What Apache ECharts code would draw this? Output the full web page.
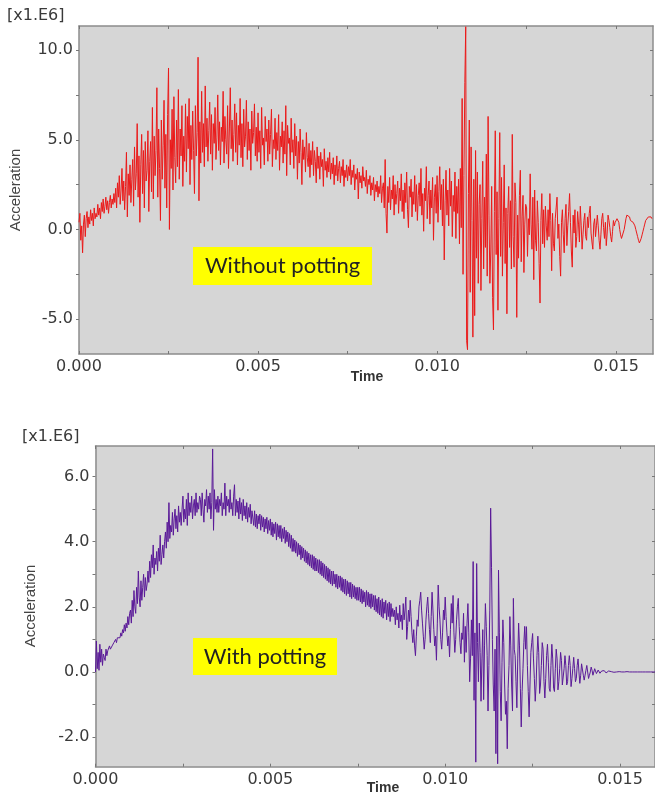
<!DOCTYPE html>
<html>
<head>
<meta charset="utf-8">
<script src="https://cdn.jsdelivr.net/npm/echarts@6/dist/echarts.min.js"></script>
<style>html,body{margin:0;padding:0;background:#fff;}#c{width:655px;height:795px;}</style>
</head>
<body>
<div id="c"></div>
<script>
// ---- data (acceleration in units of 1e6, time step in seconds) ----
const timeStep = 0.000025;
const topTitle = "Without potting";
const bottomTitle = "With potting";
const unitLabel = "[x1.E6]";
const xAxisName = "Time";
const yAxisName = "Acceleration";
const xTickLabels = [0, 0.005, 0.010, 0.015];
const xMinorTicks = [0, 0.0025, 0.005, 0.0075, 0.010, 0.0125, 0.015];
const topYTickLabels = [-5, 0, 5, 10];
const topYMinorTicks = [-5, -2.5, 0, 2.5, 5, 7.5, 10];
const bottomYTickLabels = [-2, 0, 2, 4, 6];
const bottomYMinorTicks = [-2, -1, 0, 1, 2, 3, 4, 5, 6];

const withoutPotting = [
  0.4, 0.9, -0.6, 0.2, -1.3, 0.3, 0.8, -0.4, 0.6, 1.0, 0.1, 0.7, 0.3, 1.1, 0.5, 0.9, 0.2, 1.2, 0.6, 0.9,
  0.7, 1.4, 0.8, 1.2, 0.6, 1.5, 1.0, 1.7, 0.9, 1.3, 1.8, 1.1, 1.6, 0.9, 1.5, 1.9, 1.2, 1.7, 1.4, 2.0,
  1.5, 2.3, 1.2, 2.6, 1.8, 3.0, 1.4, 2.2, 3.4, 1.6, 2.7, 1.1, 2.4, 4.3, 0.7, 3.1, 1.9, 3.6, 1.5, 2.8,
  3.9, 1.3, 4.6, 2.2, 3.1, 5.9, 1.8, 4.1, 0.4, 3.6, 5.3, 2.0, 4.4, 1.2, 4.9, 2.7, 3.3, 5.5, 1.0, 3.8,
  4.9, 2.1, 6.8, 1.7, 5.2, 3.0, 4.4, 7.9, 1.8, 5.6, 3.4, 0.5, 6.1, 2.8, 4.7, 7.2, 2.3, 5.3, 1.2, 6.4,
  9.0, 0.0, 5.0, 3.4, 6.7, 2.2, 7.4, 4.0, 2.6, 6.1, 3.5, 7.8, 2.8, 5.6, 4.1, 6.9, 2.4, 5.2, 3.8, 7.0,
  3.2, 6.3, 4.5, 7.3, 2.5, 5.8, 3.9, 6.6, 4.4, 2.0, 6.9, 4.1, 5.4, 9.6, 1.6, 6.0, 3.7, 7.7, 4.3, 5.9,
  3.5, 8.0, 4.6, 6.2, 3.8, 5.5, 7.1, 4.2, 6.4, 3.3, 5.9, 4.8, 6.8, 3.9, 5.1, 7.5, 4.4, 6.0, 3.6, 5.7,
  4.9, 7.7, 3.7, 6.3, 5.0, 4.2, 6.9, 3.4, 5.6, 7.9, 4.5, 6.1, 3.8, 5.3, 7.0, 4.3, 6.5, 3.6, 5.8, 4.7,
  7.3, 4.0, 5.9, 3.5, 6.7, 4.6, 5.2, 7.2, 3.9, 6.0, 4.4, 5.6, 3.3, 6.6, 4.8, 5.4, 7.0, 4.1, 5.7, 3.8,
  6.5, 4.3, 5.5, 3.4, 6.8, 4.7, 5.1, 3.6, 6.3, 4.9, 5.6, 3.8, 6.1, 4.2, 5.3, 6.7, 3.5, 5.0, 4.5, 6.2,
  3.9, 5.4, 4.4, 6.4, 3.3, 5.2, 4.6, 6.0, 3.7, 5.5, 4.2, 6.9, 3.0, 5.8, 4.8, 5.1, 3.6, 6.2, 4.3, 5.0,
  3.4, 5.9, 4.1, 5.2, 2.8, 4.9, 3.7, 5.6, 4.3, 2.5, 5.0, 3.9, 4.6, 3.2, 5.4, 4.0, 3.5, 4.8, 2.9, 4.4,
  3.6, 4.9, 3.0, 4.4, 3.8, 2.6, 4.6, 3.4, 4.1, 2.8, 4.3, 3.5, 3.9, 2.4, 4.5, 3.3, 3.8, 2.9, 4.0, 3.2,
  4.3, 2.8, 3.7, 3.1, 4.0, 2.5, 3.6, 3.0, 4.1, 2.7, 3.4, 3.8, 2.6, 3.5, 3.0, 3.9, 2.4, 3.3, 2.9, 3.6,
  2.7, 3.5, 3.0, 3.9, 2.5, 3.3, 2.9, 3.6, 2.2, 3.1, 2.8, 3.4, 1.7, 3.2, 2.6, 3.0, 2.3, 3.5, 2.7, 2.9,
  2.4, 3.3, 2.0, 2.8, 2.5, 3.0, 1.9, 2.6, 2.2, 2.9, 1.6, 2.5, 2.1, 2.7, 1.8, 2.4, 2.0, 3.0, 1.5, 2.3,
  2.6, 1.2, 3.9, 0.9, -0.2, 2.4, 1.5, 2.9, 1.1, 2.2, 1.7, 3.0, 0.8, 2.5, 1.4, 2.0, 2.7, 0.9, 2.3, 1.6,
  3.1, 1.0, 2.2, 0.6, 2.6, 1.5, 3.2, 1.1, 0.1, 2.4, 1.8, 2.8, 0.7, 2.1, 1.4, 3.0, 1.0, 2.5, 0.5, 1.9,
  2.6, 1.3, 3.4, 0.8, 2.0, -0.1, 2.3, 1.6, 3.5, 0.6, 1.9, 2.7, 0.3, 2.2, 1.2, 2.9, -0.6, 1.8, 2.5, 0.9,
  3.0, 0.4, 2.1, 3.5, 1.1, 2.5, 0.2, 2.8, -1.7, 1.6, 3.3, 0.8, 2.2, 0.2, 3.4, 1.3, 2.7, -0.4, 1.9, 1.0,
  3.2, -0.5, 2.4, 0.9, 2.8, -0.8, 3.4, 0.1, 7.3, -2.5, 3.0, 8.2, 11.3, -6.2, -6.7, 2.0, 6.1, -3.5, 4.6, 0.5,
  -6.0, 2.8, -4.8, 4.4, -1.6, 3.2, -3.0, 1.4, 2.5, -3.4, 0.6, 3.8, -2.2, 1.8, -1.0, 4.2, -2.6, 6.3, 0.8, -3.0,
  -1.2, 2.4, -3.8, -5.6, 1.0, 5.5, -1.4, 2.1, -4.5, 0.6, 5.4, -1.5, 2.9, -2.6, 0.4, 3.6, -1.9, 1.2, -4.7, 0.9,
  2.4, -1.0, 1.6, -2.2, 5.3, -0.4, -2.1, 2.6, 1.5, -4.9, 0.8, -1.6, 1.9, 3.3, -1.8, 0.7, 1.9, -2.4, 0.3, 1.4,
  1.2, -1.5, 0.6, -0.3, 3.1, 0.3, -1.1, 1.8, -2.8, 2.2, -0.6, -1.2, 1.6, 0.4, -1.9, -4.1, 0.5, 2.0, -0.8, 1.1,
  -1.0, 1.3, 0.2, -0.6, 1.1, -0.4, 2.0, 0.5, -2.3, 0.9, -0.8, -1.2, 0.6, 1.2, 1.8, -0.5, 0.3, -1.5, -2.6, 0.4,
  1.1, -0.3, -1.3, 0.6, 1.4, -0.9, 0.2, 1.0, 2.0, 0.4, -1.2, -2.1, 0.8, -0.2, 1.1, -1.0, -0.4, 1.0, 0.3, -0.7,
  1.3, 0.2, -1.1, -0.3, 0.5, 0.9, -0.4, -0.6, 0.7, 0.1, 0.9, 1.3, -0.2, -0.7, -1.1, 0.3, 0.6, -0.4, 0.2, 0.8,
  0.2, -0.6, -1.1, -0.3, 0.6, 0.9, 0.1, -0.5, 0.4, -0.9, -0.2, 0.8, 0.5, 0.1, -0.4, -0.7, -0.1, 0.5, 0.2, 0.4,
  0.4, 0.6, 0.7, 0.4, 0.0, -0.3, -0.5, -0.6, -0.4, 0.0, 0.3, 0.6, 0.8, 0.9, 0.8, 0.7, 0.5, 0.6, 0.5, 0.4,
  0.3, 0.2, 0.0, -0.2, -0.4, -0.6, -0.75, -0.7, -0.5, -0.3, -0.1, 0.1, 0.3, 0.5, 0.5, 0.6, 0.7, 0.7, 0.6, 0.7, 0.6
];

const withPotting = [
  0.0, 0.95, 0.1, 0.6, 0.05, 0.85, 0.3, 0.7, 0.2, 0.55, 0.45, 0.35, 0.7, 0.5, 0.65, 0.6, 0.8, 0.7, 0.75, 0.8,
  0.75, 0.9, 0.85, 1.0, 0.9, 1.05, 1.0, 1.1, 1.05, 1.2, 1.1, 1.3, 1.2, 1.45, 1.25, 1.5, 1.35, 1.7, 1.45, 1.8,
  1.9, 1.5, 2.2, 1.7, 2.5, 2.0, 1.8, 2.6, 2.1, 3.1, 2.3, 2.0, 2.8, 2.2, 2.6, 3.0, 2.3, 2.9, 2.5, 2.7,
  3.1, 2.75, 3.4, 2.9, 3.6, 3.2, 3.9, 3.0, 3.5, 3.3, 3.7, 3.1, 3.8, 3.4, 4.2, 3.3, 3.6, 3.9, 3.5, 4.0,
  4.3, 3.8, 4.6, 4.0, 5.2, 4.1, 4.5, 4.3, 4.9, 4.2, 4.7, 5.0, 4.4, 4.8, 4.3, 5.1, 4.6, 4.9, 4.5, 5.0,
  5.4, 4.6, 5.0, 4.7, 5.3, 4.5, 5.5, 4.8, 5.2, 4.9, 5.4, 4.7, 5.1, 5.3, 4.8, 5.5, 4.9, 5.2, 5.0, 5.4,
  5.3, 4.8, 5.5, 5.0, 4.6, 5.3, 5.1, 5.6, 4.9, 5.4, 5.0, 5.5, 4.7, 5.2, 6.85, 4.35, 5.6, 5.0, 5.3, 4.9,
  5.4, 4.9, 5.3, 5.1, 5.5, 4.8, 5.2, 5.0, 5.8, 4.8, 5.4, 5.1, 5.3, 4.9, 5.6, 5.0, 5.2, 4.8, 5.4, 5.75,
  4.8, 5.3, 4.9, 5.25, 4.7, 5.35, 4.85, 5.2, 4.65, 5.3, 4.8, 5.1, 4.7, 5.2, 4.6, 5.05, 4.75, 5.15, 4.55, 4.95,
  4.9, 4.5, 4.95, 4.45, 4.85, 4.4, 4.8, 4.55, 4.85, 4.35, 4.8, 4.45, 4.75, 4.3, 4.7, 4.4, 4.75, 4.25, 4.65, 4.35,
  4.7, 4.2, 4.6, 4.15, 4.55, 4.25, 4.6, 4.05, 4.55, 4.15, 4.5, 4.1, 4.5, 4.0, 4.4, 4.1, 4.45, 3.95, 4.35, 4.0,
  4.3, 3.85, 4.25, 3.8, 4.2, 3.7, 4.1, 3.7, 4.05, 3.65, 4.0, 3.55, 3.95, 3.6, 3.9, 3.45, 3.85, 3.5, 3.8, 3.4,
  3.75, 3.35, 3.7, 3.3, 3.65, 3.25, 3.6, 3.2, 3.6, 3.15, 3.55, 3.1, 3.5, 3.1, 3.45, 3.05, 3.45, 3.0, 3.4, 2.95,
  3.35, 2.9, 3.3, 2.85, 3.25, 2.8, 3.2, 2.75, 3.15, 2.7, 3.1, 2.65, 3.1, 2.7, 3.0, 2.6, 3.0, 2.55, 2.95, 2.6,
  2.95, 2.5, 2.9, 2.45, 2.85, 2.4, 2.85, 2.35, 2.8, 2.4, 2.75, 2.3, 2.75, 2.25, 2.7, 2.3, 2.65, 2.25, 2.6, 2.2,
  2.6, 2.2, 2.6, 2.15, 2.55, 2.1, 2.5, 2.15, 2.45, 2.0, 2.5, 2.05, 2.45, 2.0, 2.4, 1.95, 2.4, 2.0, 2.35, 1.9,
  2.35, 1.85, 2.25, 1.8, 2.3, 1.75, 2.2, 1.7, 2.25, 1.65, 2.15, 1.8, 2.2, 1.6, 2.1, 1.7, 2.15, 1.55, 2.1, 1.7,
  1.95, 1.7, 1.9, 1.45, 2.0, 1.6, 1.8, 1.35, 2.05, 1.55, 1.75, 1.3, 2.1, 1.6, 1.9, 2.3, 1.0, 1.4, 1.9, 1.55,
  2.2, 1.7, 1.2, 0.9, 1.3, 0.8, 0.5, 1.1, 1.6, 1.4, 2.0, 2.2, 2.45, 1.9, 1.5, 1.1, 0.7, 1.0, 1.6, 2.0,
  2.3, 1.8, 1.3, 0.9, 1.7, 2.45, 1.9, 1.3, 0.8, 1.1, 0.36, 1.5, 2.67, 2.0, 1.6, 1.0, 0.7, 1.2, 1.9, 1.6,
  2.3, 1.7, 1.2, 0.8, 1.1, 0.46, 1.3, 2.1, 1.5, 2.35, 1.2, 0.6, 1.0, 1.6, 2.0, 2.26, 1.4, 0.9, 0.56, 1.2,
  1.0, 1.8, 0.3, 1.4, 0.6, 1.5, 2.1, 1.2, -0.3, 0.4, 1.6, 0.5, 3.39, -0.87, 1.2, -2.77, 3.33, 0.9, -0.3, 1.5,
  0.6, -0.9, 0.4, 1.3, -0.85, 0.8, 2.1, 1.4, 0.5, -1.2, 0.2, 1.9, 5.03, 3.2, 1.0, -0.4, -1.2, 0.7, -2.51, 1.1,
  -2.82, 3.13, 1.2, -0.6, -1.5, 0.3, 1.6, 0.9, -0.4, -1.3, -0.9, -2.36, -0.5, 0.2, 1.7, 0.8, -0.4, -1.2, 2.26, 0.7,
  0.5, -0.3, -1.1, 0.4, 1.5, 0.8, -0.5, -1.69, -0.6, 0.1, 0.9, 1.4, 0.7, 1.39, 0.2, -0.6, -1.38, -0.4, 0.6, 0.9,
  1.18, 0.4, -0.2, -0.9, -0.4, 0.5, 1.1, 0.6, -0.66, -0.4, 0.2, 0.9, 0.7, -0.3, -0.8, -0.2, 0.5, 0.85, 0.3, -0.5,
  -0.6, 0.2, 0.85, 0.4, -0.5, -0.6, 0.1, 0.7, 0.4, -0.55, -0.3, 0.1, 0.6, 0.35, -0.4, -0.45, 0.1, 0.5, 0.2, -0.4,
  -0.3, 0.2, 0.5, 0.2, -0.45, -0.2, 0.1, 0.45, 0.1, -0.3, -0.2, 0.2, 0.4, 0.0, -0.35, -0.1, 0.25, 0.3, -0.1, -0.25,
  -0.25, 0.05, 0.2, 0.15, -0.2, -0.1, 0.0, 0.15, 0.05, -0.1, -0.08, 0.1, 0.08, -0.05, -0.06, 0.06, 0.04, -0.04, 0.0, 0.03,
  -0.03, 0.0, 0.04, 0.02, -0.03, -0.02, 0.02, 0.03, -0.01, -0.02, 0.01, 0.02, 0.0, -0.01, 0.0, 0.01, 0.0, -0.01, 0.0, 0.01,
  0.0, -0.01, 0, 0.01, 0, 0, -0.01, 0, 0.01, 0, 0, 0, 0, 0, 0, 0, 0, 0, 0, 0,
  0, 0, 0, 0, 0, 0, 0, 0, 0, 0, 0, 0, 0, 0, 0, 0, 0, 0, 0, 0, 0
];

// ---- chart ----
const toPairs = arr => arr.map((v, i) => [i * timeStep, v]);
const labelFont = { color: '#3a3a3a', fontFamily: 'DejaVu Sans', fontSize: 16 };
const axisLineStyle = { color: '#8c8c8c', width: 1.5 };

function xAxes(gi, max) {
  return [
    { type: 'value', gridIndex: gi, min: 0, max: max, position: 'bottom',
      axisLine: { show: true, onZero: false, lineStyle: axisLineStyle },
      axisTick: { show: true, inside: true, length: 3, customValues: xMinorTicks, lineStyle: { color: '#777' } },
      axisLabel: Object.assign({ show: true, margin: 5, customValues: xTickLabels, formatter: v => v.toFixed(3) }, labelFont),
      splitLine: { show: false } },
    { type: 'value', gridIndex: gi, min: 0, max: max, position: 'top',
      axisLine: { show: true, onZero: false, lineStyle: axisLineStyle },
      axisTick: { show: true, inside: true, length: 3, customValues: xMinorTicks, lineStyle: { color: '#777' } },
      axisLabel: { show: false }, splitLine: { show: false } }
  ];
}
function yAxes(gi, min, max, labels, ticks) {
  return [
    { type: 'value', gridIndex: gi, min: min, max: max, position: 'left',
      axisLine: { show: true, onZero: false, lineStyle: axisLineStyle },
      axisTick: { show: true, inside: false, length: 3, customValues: ticks, lineStyle: { color: '#777' } },
      axisLabel: Object.assign({ show: true, margin: 6, customValues: labels, formatter: v => v.toFixed(1) }, labelFont),
      splitLine: { show: false } },
    { type: 'value', gridIndex: gi, min: min, max: max, position: 'right',
      axisLine: { show: true, onZero: false, lineStyle: axisLineStyle },
      axisTick: { show: true, inside: true, length: 3, customValues: ticks, lineStyle: { color: '#777' } },
      axisLabel: { show: false }, splitLine: { show: false } }
  ];
}

const chart = echarts.init(document.getElementById('c'), null, { renderer: 'canvas' });
chart.setOption({
  animation: false,
  backgroundColor: '#ffffff',
  grid: [
    { left: 79, top: 26, width: 574, height: 328, show: true, backgroundColor: '#d6d6d6', borderWidth: 0 },
    { left: 95.5, top: 446, width: 573, height: 320.7, show: true, backgroundColor: '#d6d6d6', borderWidth: 0 }
  ],
  xAxis: [].concat(xAxes(0, 0.01603), xAxes(1, 0.0160)),
  yAxis: [].concat(yAxes(0, -6.94, 11.34, topYTickLabels, topYMinorTicks),
                   yAxes(1, -2.91, 6.94, bottomYTickLabels, bottomYMinorTicks)),
  series: [
    { type: 'line', xAxisIndex: 0, yAxisIndex: 0, data: toPairs(withoutPotting), showSymbol: false,
      lineStyle: { color: '#ea1a1a', width: 1 }, sampling: null, clip: true },
    { type: 'line', xAxisIndex: 2, yAxisIndex: 2, data: toPairs(withPotting), showSymbol: false,
      lineStyle: { color: '#5a1a98', width: 1 }, sampling: null, clip: true }
  ],
  graphic: [
    { type: 'text', left: 7, top: 8, style: { text: unitLabel, font: '16px "DejaVu Sans"', fill: '#3a3a3a' } },
    { type: 'text', left: 22, top: 429, style: { text: unitLabel, font: '16px "DejaVu Sans"', fill: '#3a3a3a' } },
    { type: 'text', x: 367, y: 377, style: { text: xAxisName, font: 'bold 14px "Liberation Sans"', fill: '#333', align: 'center', verticalAlign: 'middle' } },
    { type: 'text', x: 383, y: 788, style: { text: xAxisName, font: 'bold 14px "Liberation Sans"', fill: '#333', align: 'center', verticalAlign: 'middle' } },
    { type: 'text', x: 16, y: 190, rotation: Math.PI / 2, style: { text: yAxisName, font: '15px "Liberation Sans"', fill: '#444', align: 'center', verticalAlign: 'middle' } },
    { type: 'text', x: 31, y: 606, rotation: Math.PI / 2, style: { text: yAxisName, font: '15px "Liberation Sans"', fill: '#444', align: 'center', verticalAlign: 'middle' } },
    { type: 'rect', shape: { x: 193, y: 247, width: 179, height: 38 }, style: { fill: '#ffff00' }, z: 100 },
    { type: 'text', x: 282.5, y: 266, z: 101, style: { text: topTitle, font: '22px Lato', fill: '#222', align: 'center', verticalAlign: 'middle' } },
    { type: 'rect', shape: { x: 193, y: 638, width: 144, height: 37 }, style: { fill: '#ffff00' }, z: 100 },
    { type: 'text', x: 265, y: 657, z: 101, style: { text: bottomTitle, font: '22px Lato', fill: '#222', align: 'center', verticalAlign: 'middle' } }
  ]
});
</script>
</body>
</html>
